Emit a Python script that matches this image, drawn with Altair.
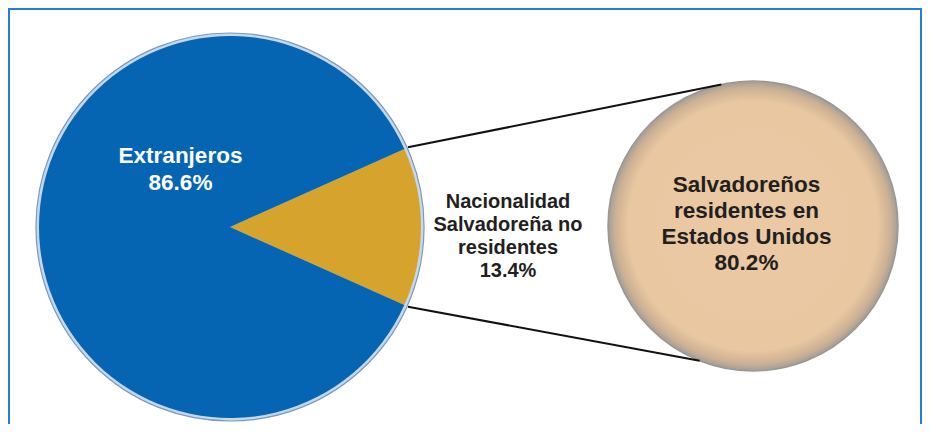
import math
import altair as alt
import pandas as pd

# ---- data ----
categories = ["Nacionalidad Salvadoreña no residentes", "Extranjeros"]
shares = [13.4, 86.6]
label_lines = [["Nacionalidad", "Salvadoreña no", "residentes"], ["Extranjeros"]]
sub_category = "Salvadoreños residentes en Estados Unidos"
sub_share = 80.2
sub_label_lines = ["Salvadoreños", "residentes en", "Estados Unidos"]

# ---- layout (pixels inside the chart) ----
W, H = 914, 416
PIE_X, PIE_Y, PIE_R = 222, 219, 191
CIR_X, CIR_Y, CIR_R = 745, 218, 145
BLUE, GOLD, TAN = "#0565b2", "#d6a32c", "#eac9a4"
FONT = "Liberation Sans"

pie_df = pd.DataFrame({
    "cat": categories,
    "share": shares,
    "order": list(range(len(categories))),
})
gold_span = 2 * math.pi * shares[0] / 100.0
start = math.pi / 2 - gold_span / 2

one = alt.Chart(pd.DataFrame({"k": [sub_category], "share": [sub_share]}))

# frame
frame_top = one.mark_rule(color="#2b7ccb", strokeWidth=2).encode(
    x=alt.value(0), x2=alt.value(W), y=alt.value(1))
frame_left = one.mark_rule(color="#2b7ccb", strokeWidth=2).encode(
    x=alt.value(1), y=alt.value(0), y2=alt.value(H + 10))
frame_right = one.mark_rule(color="#2b7ccb", strokeWidth=2).encode(
    x=alt.value(W - 1), y=alt.value(0), y2=alt.value(H + 10))

# pie rim
rim = one.mark_arc(radius=PIE_R + 3, theta=0, theta2=2 * math.pi,
                   fill="#c5d9ee", stroke="#7d98b6", strokeWidth=1.2).encode(
    x=alt.value(PIE_X), y=alt.value(PIE_Y))

pie = alt.Chart(pie_df).mark_arc(radius=PIE_R).encode(
    theta=alt.Theta("share:Q", stack=True,
                    scale=alt.Scale(type="linear", range=[start, start + 2 * math.pi])),
    order=alt.Order("order:Q"),
    color=alt.Color("cat:N", scale=alt.Scale(domain=categories, range=[GOLD, BLUE]),
                    legend=None),
    x=alt.value(PIE_X), y=alt.value(PIE_Y),
)

# connector lines from slice edges to the circle
def pt(cx, cy, r, a):
    return cx + r * math.sin(a), cy - r * math.cos(a)

p1 = pt(PIE_X, PIE_Y, PIE_R + 4, start)
p2 = pt(PIE_X, PIE_Y, PIE_R + 4, start + gold_span)
q1 = pt(CIR_X, CIR_Y, CIR_R, math.radians(-12.6))
q2 = pt(CIR_X, CIR_Y, CIR_R, math.radians(-158.4))
line1 = one.mark_rule(color="#111111", strokeWidth=2).encode(
    x=alt.value(p1[0]), y=alt.value(p1[1]), x2=alt.value(q1[0]), y2=alt.value(q1[1]))
line2 = one.mark_rule(color="#111111", strokeWidth=2).encode(
    x=alt.value(p2[0]), y=alt.value(p2[1]), x2=alt.value(q2[0]), y2=alt.value(q2[1]))

# detail circle
grad = alt.Gradient(
    gradient="radial",
    stops=[alt.GradientStop(color=TAN, offset=0),
           alt.GradientStop(color="#e9c7a1", offset=0.86),
           alt.GradientStop(color="#cdb194", offset=0.95),
           alt.GradientStop(color="#a39d98", offset=1)],
    x1=0.5, y1=0.5, r1=0, x2=0.5, y2=0.5, r2=0.5,
)
circle = one.mark_arc(radius=CIR_R, theta=0, theta2=2 * math.pi, fill=grad,
                      stroke="#9a9792", strokeWidth=1.5).encode(
    x=alt.value(CIR_X), y=alt.value(CIR_Y))

# labels
pie_df["label"] = ["\n".join(l + [f"{s:.1f}%"]) for l, s in zip(label_lines, shares)]
lab_ext = alt.Chart(pie_df[pie_df.cat == "Extranjeros"]).mark_text(
    font=FONT, fontSize=22.5, fontWeight="bold", color="white", align="center",
    baseline="alphabetic", lineBreak="\n", lineHeight=27).encode(
    text="label:N", x=alt.value(172.5), y=alt.value(155))
lab_mid = alt.Chart(pie_df[pie_df.cat != "Extranjeros"]).mark_text(
    font=FONT, fontSize=20, fontWeight="bold", color="#231f20", align="center",
    baseline="alphabetic", lineBreak="\n", lineHeight=23).encode(
    text="label:N", x=alt.value(500), y=alt.value(200))
sub_df = pd.DataFrame({"label": ["\n".join(sub_label_lines + [f"{sub_share:.1f}%"])]})
lab_sub = alt.Chart(sub_df).mark_text(
    font=FONT, fontSize=22.5, fontWeight="bold", color="#231f20", align="center",
    baseline="alphabetic", lineBreak="\n", lineHeight=26).encode(
    text="label:N", x=alt.value(738.5), y=alt.value(184))

chart = alt.layer(
    frame_top, frame_left, frame_right, rim, pie, circle, line1, line2,
    lab_ext, lab_mid, lab_sub,
).properties(
    width=W, height=H, padding=0, autosize=alt.AutoSizeParams(type="none"),
    background="white",
).configure_view(stroke=None)

chart.save("out.html", embed_options={"renderer": "svg", "actions": False})
